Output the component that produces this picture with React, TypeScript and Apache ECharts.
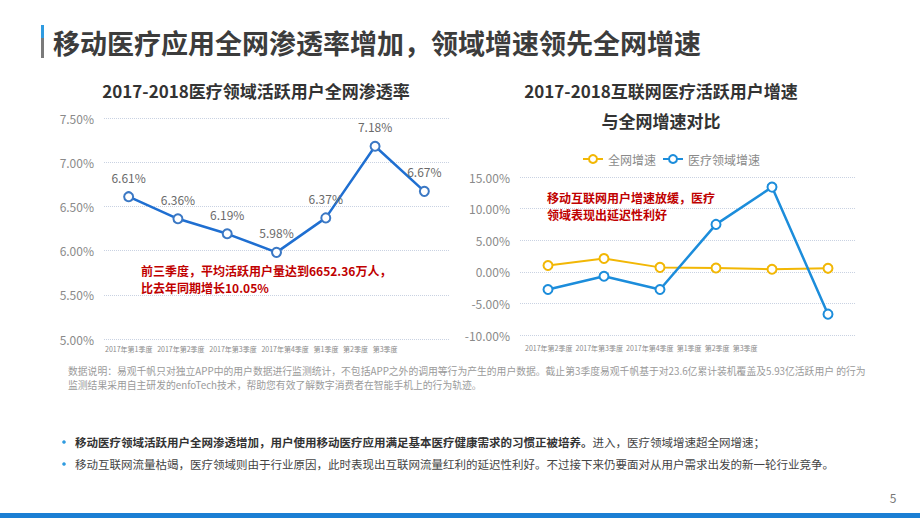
import React, { useEffect, useRef } from "react";
import * as echarts from "echarts";

const leftCategories = ["2017年第1季度", "2017年第2季度", "2017年第3季度", "2017年第4季度", "第1季度", "第2季度", "第3季度"];
const leftValues = [6.61, 6.36, 6.19, 5.98, 6.37, 7.18, 6.67];

const rightCategories = ["2017年第2季度", "2017年第3季度", "2017年第4季度", "第1季度", "第2季度", "第3季度"];
const overallGrowth = [1.0, 2.1, 0.7, 0.6, 0.4, 0.55];
const medicalGrowth = [-2.8, -0.7, -2.8, 7.5, 13.4, -6.7];

const pageTitle = "移动医疗应用全网渗透率增加，领域增速领先全网增速";
const leftTitle = "2017-2018医疗领域活跃用户全网渗透率";
const rightTitle1 = "2017-2018互联网医疗活跃用户增速";
const rightTitle2 = "与全网增速对比";
const leftNote = ["前三季度，平均活跃用户量达到6652.36万人，", "比去年同期增长10.05%"];
const rightNote = ["移动互联网用户增速放缓，医疗", "领域表现出延迟性利好"];
const footnote = [
  "数据说明：易观千帆只对独立APP中的用户数据进行监测统计，不包括APP之外的调用等行为产生的用户数据。截止第3季度易观千帆基于对23.6亿累计装机覆盖及5.93亿活跃用户 的行为",
  "监测结果采用自主研发的enfoTech技术，帮助您有效了解数字消费者在智能手机上的行为轨迹。",
];
const bullet1Bold = "移动医疗领域活跃用户全网渗透增加，用户使用移动医疗应用满足基本医疗健康需求的习惯正被培养。";
const bullet1Normal = "进入，医疗领域增速超全网增速；";
const bullet2 = "移动互联网流量枯竭，医疗领域则由于行业原因，此时表现出互联网流量红利的延迟性利好。不过接下来仍要面对从用户需求出发的新一轮行业竞争。";

const FONT = "'Noto Sans CJK SC', 'Noto Sans', sans-serif";

export default function App() {
  const ref = useRef<HTMLDivElement>(null);
  useEffect(() => {
    document.body.style.margin = "0";
    const chart = echarts.init(ref.current!, null, { renderer: "svg" });
    const axisLabelY = { color: "#8a8a8a", fontSize: 12, fontFamily: FONT, margin: 10 };
    const splitLine = { show: true, lineStyle: { color: "#c9d2e2", type: "dotted" as const, width: 1 } };
    const titleStyle = { fill: "#333", fontSize: 17, fontWeight: "bold", fontFamily: FONT, textAlign: "center", textVerticalAlign: "middle" };
    const noteStyle = { fill: "#c00000", fontSize: 12, fontWeight: "bold", fontFamily: FONT, textVerticalAlign: "middle" };
    const catLabelStyle = { fill: "#8a8a8a", fontSize: 7, fontFamily: FONT, textVerticalAlign: "middle" };
    const footStyle = { fill: "#9a9a9a", fontSize: 9.8, fontFamily: FONT, textVerticalAlign: "middle", lineHeight: 10 };
    chart.setOption({
      animation: false,
      textStyle: { fontFamily: FONT },
      grid: [
        { left: 104, top: 118, width: 345, height: 221 },
        { left: 520, top: 177, width: 336, height: 158 },
      ],
      legend: {
        data: ["全网增速", "医疗领域增速"],
        left: 577,
        top: 148,
        itemWidth: 20,
        itemHeight: 10,
        itemGap: 6,
        textStyle: { color: "#8a8a8a", fontSize: 12, fontFamily: FONT },
      },
      xAxis: [
        {
          type: "category",
          gridIndex: 0,
          data: leftCategories,
          axisLine: { show: false },
          axisTick: { show: false },
          axisLabel: { show: false },
        },
        {
          type: "category",
          gridIndex: 1,
          data: rightCategories,
          axisLine: { show: false },
          axisTick: { show: false },
          axisLabel: { show: false },
        },
      ],
      yAxis: [
        {
          type: "value",
          gridIndex: 0,
          min: 5,
          max: 7.5,
          interval: 0.5,
          axisLine: { show: false },
          axisTick: { show: false },
          axisLabel: { ...axisLabelY, formatter: (v: number) => v.toFixed(2) + "%" },
          splitLine,
        },
        {
          type: "value",
          gridIndex: 1,
          min: -10,
          max: 15,
          interval: 5,
          axisLine: { show: false },
          axisTick: { show: false },
          axisLabel: { ...axisLabelY, formatter: (v: number) => v.toFixed(2) + "%" },
          splitLine,
        },
      ],
      series: [
        {
          name: "渗透率",
          type: "line",
          xAxisIndex: 0,
          yAxisIndex: 0,
          data: leftValues,
          symbol: "emptyCircle",
          symbolSize: 9,
          lineStyle: { color: "#1f6fd1", width: 2.5 },
          itemStyle: { color: "#3b78c4", borderWidth: 1.5 },
          label: {
            show: true,
            position: "top",
            distance: 8,
            color: "#6a6a6a",
            fontSize: 12,
            fontFamily: FONT,
            formatter: (p: any) => p.value.toFixed(2) + "%",
          },
        },
        {
          name: "全网增速",
          type: "line",
          xAxisIndex: 1,
          yAxisIndex: 1,
          data: overallGrowth,
          symbol: "emptyCircle",
          symbolSize: 9,
          lineStyle: { color: "#f2b705", width: 2 },
          itemStyle: { color: "#f2b705", borderWidth: 1.5 },
        },
        {
          name: "医疗领域增速",
          type: "line",
          xAxisIndex: 1,
          yAxisIndex: 1,
          data: medicalGrowth,
          symbol: "emptyCircle",
          symbolSize: 9,
          lineStyle: { color: "#1c8ddb", width: 2.5 },
          itemStyle: { color: "#1c8ddb", borderWidth: 1.5 },
        },
      ],
      graphic: [
        { type: "rect", shape: { x: 41, y: 25, width: 3, height: 13 }, style: { fill: "#2f9be0" } },
        { type: "rect", shape: { x: 41, y: 38, width: 3, height: 20 }, style: { fill: "#7a7a7a" } },
        {
          type: "text",
          x: 53,
          y: 42,
          style: {
            text: pageTitle,
            fill: "#3c3c3c",
            fontSize: 27,
            fontWeight: "bold",
            fontFamily: FONT,
            textVerticalAlign: "middle",
          },
        },
        { type: "text", x: 256, y: 90, style: { text: leftTitle, ...titleStyle } },
        { type: "text", x: 661, y: 90, style: { text: rightTitle1, ...titleStyle } },
        { type: "text", x: 661, y: 120, style: { text: rightTitle2, ...titleStyle } },
        { type: "text", x: 105, y: 349, style: { text: leftCategories.join("   "), ...catLabelStyle } },
        { type: "text", x: 525, y: 348, style: { text: rightCategories.join("  "), ...catLabelStyle } },
        { type: "text", x: 141, y: 270, style: { text: leftNote[0], ...noteStyle } },
        { type: "text", x: 141, y: 287, style: { text: leftNote[1], ...noteStyle } },
        { type: "text", x: 547, y: 197, style: { text: rightNote[0], ...noteStyle } },
        { type: "text", x: 547, y: 214, style: { text: rightNote[1], ...noteStyle } },
        { type: "text", x: 68, y: 371, style: { text: footnote[0], ...footStyle } },
        { type: "text", x: 68, y: 385, style: { text: footnote[1], ...footStyle } },
        { type: "circle", shape: { cx: 64, cy: 442, r: 1.8 }, style: { fill: "#2f9be0" } },
        { type: "circle", shape: { cx: 64, cy: 464, r: 1.8 }, style: { fill: "#2f9be0" } },
        {
          type: "text",
          x: 75,
          y: 442,
          style: {
            text: "{b|" + bullet1Bold + "}{n|" + bullet1Normal + "}",
            textVerticalAlign: "middle",
            rich: {
              b: { fill: "#333", fontSize: 11.5, fontWeight: "bold", fontFamily: FONT },
              n: { fill: "#444", fontSize: 11.5, fontFamily: FONT },
            },
          },
        },
        {
          type: "text",
          x: 75,
          y: 464,
          style: { text: bullet2, fill: "#444", fontSize: 11.5, fontFamily: FONT, textVerticalAlign: "middle" },
        },
        {
          type: "text",
          x: 893,
          y: 497,
          style: { text: "5", fill: "#777", fontSize: 12, fontFamily: FONT, textAlign: "center", textVerticalAlign: "middle" },
        },
        { type: "rect", shape: { x: 0, y: 513, width: 920, height: 5 }, style: { fill: "#1b7fd4" } },
      ],
    });
    return () => chart.dispose();
  }, []);
  return <div ref={ref} style={{ width: 920, height: 518 }} />;
}
